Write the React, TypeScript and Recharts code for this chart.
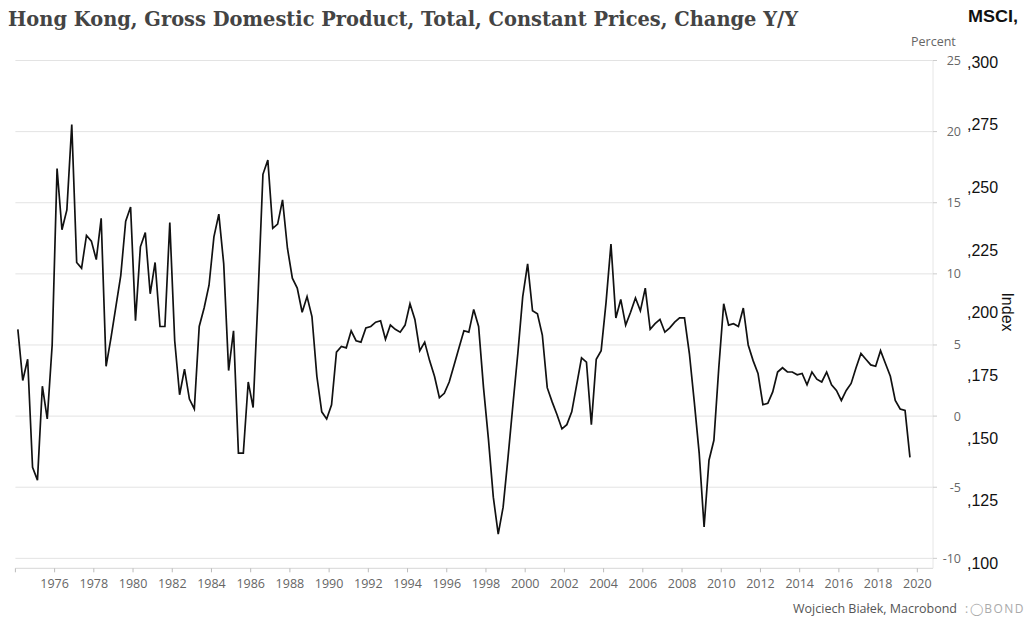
import React from 'react';
import { LineChart, Line, XAxis, YAxis, CartesianGrid } from 'recharts';

const START_YEAR = 1974;

// Hong Kong real GDP, % change Y/Y, quarterly from 1974Q1
const gdp1970s = [
  6.1, 2.5, 4.0, -3.6, -4.5, 2.1, -0.2, 5.0, 17.4, 13.1, 14.5, 20.5,
  10.8, 10.4, 12.7, 12.3, 11.0, 13.9, 3.5, 5.5, 7.7, 9.9, 13.7, 14.7,
];
const gdp1980s = [
  6.7, 11.9, 12.9, 8.6, 10.8, 6.3, 6.3, 13.6, 5.3, 1.5, 3.3, 1.2,
  0.5, 6.3, 7.6, 9.2, 12.6, 14.2, 10.7, 3.2, 6.0, -2.6, -2.6, 2.4,
  0.6, 8.4, 17.0, 18.0, 13.2, 13.5, 15.2, 11.8, 9.7, 9.0, 7.3, 8.4,
  7.0, 2.8, 0.3, -0.2,
];
const gdp1990s = [
  0.8, 4.5, 4.9, 4.8, 6.0, 5.3, 5.2, 6.2, 6.3, 6.6, 6.7, 5.4,
  6.4, 6.1, 5.9, 6.4, 7.9, 6.8, 4.6, 5.2, 3.9, 2.8, 1.3, 1.6,
  2.4, 3.6, 4.8, 6.0, 5.9, 7.5, 6.3, 2.0, -1.6, -5.7, -8.3, -6.4,
  -2.9, 0.8, 4.4, 8.4,
];
const gdp2000s = [
  10.7, 7.4, 7.2, 5.7, 2.0, 1.0, 0.1, -0.9, -0.6, 0.3, 2.2, 4.1,
  3.8, -0.6, 4.0, 4.6, 8.0, 12.1, 6.9, 8.2, 6.4, 7.3, 8.3, 7.4,
  9.0, 6.1, 6.5, 6.8, 5.9, 6.2, 6.6, 6.9, 6.9, 4.4, 1.0, -2.6,
  -7.8, -3.1, -1.7, 3.4,
];
const gdp2010s = [
  7.9, 6.4, 6.5, 6.3, 7.6, 5.0, 3.9, 3.0, 0.8, 0.9, 1.7, 3.1,
  3.4, 3.1, 3.1, 2.9, 3.0, 2.2, 3.1, 2.6, 2.4, 3.1, 2.2, 1.8,
  1.1, 1.8, 2.3, 3.4, 4.4, 4.0, 3.6, 3.5, 4.6, 3.7, 2.8, 1.1,
  0.5, 0.4, -2.9,
];

const yearTicks = [
  1974, 1976, 1978, 1980, 1982, 1984, 1986, 1988, 1990, 1992, 1994, 1996,
  1998, 2000, 2002, 2004, 2006, 2008, 2010, 2012, 2014, 2016, 2018, 2020,
];
const pctTicks = [-10, -5, 0, 5, 10, 15, 20, 25];
const indexTicks = [100, 125, 150, 175, 200, 225, 250, 275, 300];

const gdpValues = [...gdp1970s, ...gdp1980s, ...gdp1990s, ...gdp2000s, ...gdp2010s];
const data = gdpValues.map((v, i) => ({
  t: START_YEAR + Math.floor(i / 4) + ((i % 4) + 0.5) / 4,
  gdp: v,
}));

const AXIS_FONT = '"Open Sans", "Noto Sans", sans-serif';

const XTick = (props: any) => {
  const { x, y, payload } = props;
  if (payload.value === 1974) return null;
  return (
    <text x={x} y={y} dy="0.71em" textAnchor="middle" fill="#666" fontSize={12.5} fontFamily={AXIS_FONT}>
      {payload.value}
    </text>
  );
};

const PctTick = (props: any) => {
  const { x, y, payload } = props;
  return (
    <text x={x + 22} y={y} dy="0.36em" textAnchor="end" fill="#666" fontSize={12.5} fontFamily={AXIS_FONT}>
      {payload.value}
    </text>
  );
};

const IndexTick = (props: any) => {
  const { x, y, payload } = props;
  return (
    <text x={x + 1} y={y} dy="0.36em" textAnchor="start" fill="#111" fontSize={16} fontFamily="'Liberation Sans', Arial, sans-serif">
      {',' + payload.value}
    </text>
  );
};

export default function App() {
  return (
    <div style={{ position: 'absolute', left: 0, top: 0, width: 1024, height: 626, background: '#fff' }}>
      <LineChart
        width={1024}
        height={626}
        data={data}
        margin={{ top: 60.5, right: 0, left: 15.4, bottom: 27.7 }}
      >
        <CartesianGrid yAxisId="a" vertical={false} stroke="#e3e3e3" horizontalValues={pctTicks} />
        <XAxis
          dataKey="t"
          type="number"
          domain={[1974, 2020.8]}
          allowDataOverflow
          ticks={yearTicks}
          interval={0}
          height={30}
          stroke="#d6d6d6"
          tickSize={4}
          tickMargin={7}
          tick={<XTick />}
          tickLine={{ stroke: '#bbb' }}
        />
        <YAxis
          yAxisId="b"
          orientation="right"
          type="number"
          domain={[97.88, 300.6]}
          allowDataOverflow
          ticks={indexTicks}
          interval={0}
          width={58}
          axisLine={false}
          tickLine={false}
          tickSize={0}
          tickMargin={0}
          tick={<IndexTick />}
        />
        <YAxis
          yAxisId="a"
          orientation="right"
          type="number"
          domain={[-10.7, 25]}
          allowDataOverflow
          ticks={pctTicks}
          interval={0}
          width={33}
          stroke="#e6e6e6"
          tickSize={4}
          tickMargin={2}
          tickLine={{ stroke: '#ccc' }}
          tick={<PctTick />}
        />
        <Line
          yAxisId="a"
          type="linear"
          dataKey="gdp"
          stroke="#111"
          strokeWidth={1.7}
          dot={false}
          isAnimationActive={false}
        />
      </LineChart>
      <svg
        width={1024}
        height={626}
        style={{ position: 'absolute', left: 0, top: 0, pointerEvents: 'none' }}
      >
        <text
          x={8}
          y={26}
          fontFamily="'DejaVu Serif', 'Liberation Serif', serif"
          fontWeight="bold"
          fontSize={19.5}
          fill="#444"
          textLength={790}
          lengthAdjust="spacingAndGlyphs"
        >
          Hong Kong, Gross Domestic Product, Total, Constant Prices, Change Y/Y
        </text>
        <text
          x={968}
          y={22}
          fontFamily="'Liberation Sans', Arial, sans-serif"
          fontWeight="bold"
          fontSize={16}
          fill="#111"
          textLength={50}
          lengthAdjust="spacingAndGlyphs"
        >
          MSCI,
        </text>
        <text x={911} y={46} fontFamily={AXIS_FONT} fontSize={12.5} fill="#666">
          Percent
        </text>
        <text
          x={1002}
          y={312}
          transform="rotate(90 1002 312)"
          textAnchor="middle"
          fontFamily="'Liberation Sans', Arial, sans-serif"
          fontSize={16}
          fill="#111"
        >
          Index
        </text>
        <text x={957} y={613} textAnchor="end" fontFamily={AXIS_FONT} fontSize={12.5} fill="#555">
          Wojciech Białek, Macrobond
        </text>
        <text x={965} y={613} fontFamily={AXIS_FONT} fontSize={12} fill="#aaa" letterSpacing={1.5}>
          :◯BOND
        </text>
      </svg>
    </div>
  );
}
